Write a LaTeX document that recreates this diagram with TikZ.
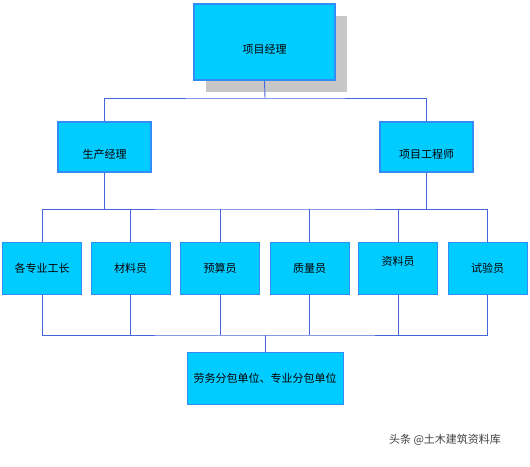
\documentclass[tikz,border=0pt]{standalone}
\usepackage{fontspec}
\newfontfamily\cjk{Noto Sans CJK SC}
\usepackage{tikz}
\usetikzlibrary{positioning,shadows}
\definecolor{boxfill}{RGB}{0,204,255}
\definecolor{boxline}{RGB}{50,140,245}
\definecolor{linkline}{RGB}{70,100,220}
\newcommand{\shifttext}[2]{\raisebox{#1}[\height][\depth]{#2}}

\begin{document}
\begin{tikzpicture}[x=1pt,y=-1pt,
        box/.style={draw=boxline,fill=boxfill,line width=1pt,minimum width=79pt,minimum height=52pt,inner sep=0pt,font=\cjk\fontsize{11}{13}\selectfont},
        headbox/.style={box,line width=2pt,minimum width=93pt,minimum height=50pt},
        link/.style={draw=linkline,line width=0.9pt}]
        \useasboundingbox (0,0) rectangle (530,466);
        \node[box,line width=2.4pt,minimum width=141pt,minimum height=76pt,
              drop shadow={shadow xshift=12pt,shadow yshift=-12pt,fill=black!22,opacity=1}] (pm) at (264.5,42) {\shifttext{-7pt}{项目经理}};
        \node[headbox] (prod) at (104.5,147) {\shifttext{-7pt}{生产经理}};
        \node[headbox] (eng) at (426.5,147) {\shifttext{-7pt}{项目工程师}};
        \node[box] (w1) at (42,268) {各专业工长};
        \node[box] (w2) at (130.5,268) {材料员};
        \node[box] (w3) at (220,268) {预算员};
        \node[box] (w4) at (309.5,268) {质量员};
        \node[box] (w5) at (398,268) {\shifttext{7pt}{资料员}};
        \node[box] (w6) at (487.5,268) {试验员};
        \node[box,minimum width=156pt] (sub) at (265,378) {劳务分包单位、专业分包单位};
        \node[text=black!75,font=\cjk\fontsize{11}{13}\selectfont] (mark) at (445,440) {头条 @土木建筑资料库};

        \coordinate (bus1) at (265,98);
        \coordinate (bus2) at (265,209);
        \coordinate (bus3) at (265,335);
        \draw[link] (pm.south) -- (bus1);
        \draw[link] (prod.north) |- (bus1) -| (eng.north);
        \draw[link] (w1.north) |- (bus2) -| (w6.north);
        \draw[link] (prod.south) -- (prod.south |- bus2);
        \draw[link] (eng.south) -- (eng.south |- bus2);
        \foreach \n in {w2,w3,w4,w5}
            \draw[link] (\n.north) -- (\n.north |- bus2);
        \draw[link] (w1.south) |- (bus3) -| (w6.south);
        \foreach \n in {w2,w3,w4,w5}
            \draw[link] (\n.south) -- (\n.south |- bus3);
        \draw[link] (sub.north) -- (bus3);
\end{tikzpicture}
\end{document}
